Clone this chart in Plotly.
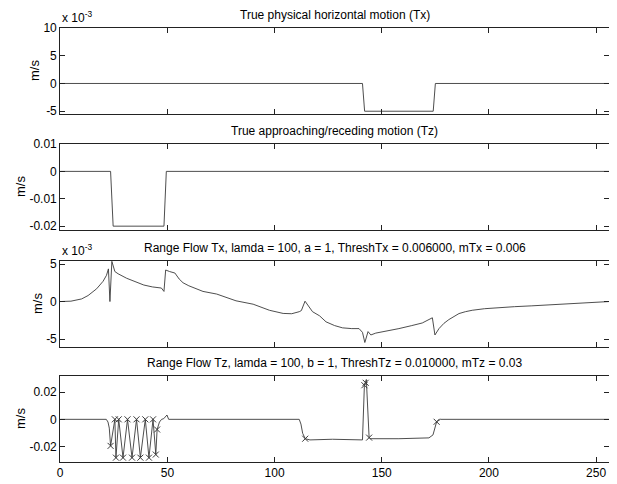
import plotly.graph_objects as go
from plotly.subplots import make_subplots

# ---------------- data ----------------
tx_true_x = [0, 141, 142, 174, 175, 256]
tx_true_y = [0, 0, -0.005, -0.005, 0, 0]

tz_true_x = [0, 23.5, 24.7, 48.4, 49.5, 256]
tz_true_y = [0, 0, -0.02, -0.02, 0, 0]

rf_tx_x = [0, 5, 10, 13, 17, 20, 21.6, 22.5, 23.2, 24.1, 25.5, 27, 31, 35, 39, 43, 47.2, 48.4, 49.2,
           51, 53.5, 55.5, 57.3, 60, 66.6, 73, 82, 90, 97.6, 104, 108, 111.5, 112.5, 114.2, 117.7,
           121, 124, 128, 131.7, 136, 139.4, 141, 142.1, 143.6, 144.9, 147.2, 152, 158, 164, 168.9,
           173.6, 174.8, 176.7, 179, 181.3, 184, 186, 189, 192.2, 198, 204.6, 212, 220, 228, 235.6,
           245, 255.3, 256]
rf_tx_y = [0, 0.05, 0.35, 0.8, 1.7, 2.7, 3.5, 4.35, 0.0, 5.35, 4.0, 3.7, 3.1, 2.6, 2.2, 1.95, 1.8, 1.35, 4.2,
           4.0, 3.8, 3.0, 2.5, 2.1, 1.35, 1.0, 0.1, -0.35, -1.16, -1.58, -1.62, -1.35, -1.2, 0.05, -1.35,
           -1.9, -2.7, -3.2, -3.5, -3.6, -3.6, -4.1, -5.45, -4.0, -4.45, -4.2, -3.95, -3.6, -3.2, -2.85,
           -2.16, -4.45, -3.6, -2.9, -2.4, -1.9, -1.6, -1.35, -1.16, -0.95, -0.8, -0.68, -0.57, -0.45, -0.34,
           -0.18, 0.0, 0.0]
rf_tx_y = [v * 1e-3 for v in rf_tx_y]

rf_tz_x = [0, 21.5, 22.3, 22.9, 23.5, 25.5, 26, 27.3, 29.3, 31.4, 33.5, 35.6, 37.4, 39.7, 41.4, 43.3, 44.6,
           45.2, 46.3, 47.3, 48.3, 49.8, 50.6, 52, 111.5, 112.3, 113.1, 114.3, 116.5, 127, 135, 141,
           141.9, 142.8, 144.1, 144.9, 158, 172, 173.9, 175.6, 177.4, 256]
rf_tz_y = [0, 0, -0.002, -0.0065, -0.0196, 0, -0.0283, 0, -0.0283, 0, -0.0283, 0, -0.0283, 0, -0.0283, 0, -0.026,
           -0.0075, -0.002, 0, 0.0005, 0.0032, 0, 0, 0, -0.0035, -0.0103, -0.0143, -0.0152, -0.0147, -0.015, -0.0152,
           0.0252, 0.0294, -0.0135, -0.0143, -0.0143, -0.0137, -0.0115, -0.0018, 0, 0]

mark_x = [23.5, 25.5, 26, 27.3, 29.3, 31.4, 33.5, 35.6, 37.4, 39.7, 41.4, 43.3, 44.6, 45.2,
          114.3, 141.9, 142.5, 144.1, 175.6]
mark_y = [-0.0196, 0, -0.0283, 0, -0.0283, 0, -0.0283, 0, -0.0283, 0, -0.0283, 0, -0.026, -0.0075,
          -0.0143, 0.0252, 0.027, -0.0135, -0.0018]

titles = ["True physical horizontal motion (Tx)",
          "True approaching/receding motion (Tz)",
          "Range Flow Tx, lamda = 100, a = 1, ThreshTx = 0.006000, mTx = 0.006",
          "Range Flow Tz, lamda = 100, b = 1, ThreshTz = 0.010000, mTz = 0.03"]

x_ticks = [0, 50, 100, 150, 200, 250]
y1_ticks = [-0.005, 0, 0.005, 0.01]
y1_text = ["-5", "0", "5", "10"]
y2_ticks = [-0.02, -0.01, 0, 0.01]
y2_text = ["-0.02", "-0.01", "0", "0.01"]
y3_ticks = [-0.005, 0, 0.005]
y3_text = ["-5", "0", "5"]
y4_ticks = [-0.02, 0, 0.02]
y4_text = ["-0.02", "0", "0.02"]

# ---------------- figure ----------------
OFF = 8  # page body margin
W, H = 617 - OFF, 484 - OFF
FONT = "Liberation Sans, Arial, sans-serif"
fig = make_subplots(rows=4, cols=1)

line = dict(color="#3a3a3a", width=0.9)
fig.add_trace(go.Scatter(x=tx_true_x, y=tx_true_y, mode="lines", line=line), row=1, col=1)
fig.add_trace(go.Scatter(x=tz_true_x, y=tz_true_y, mode="lines", line=line), row=2, col=1)
fig.add_trace(go.Scatter(x=rf_tx_x, y=rf_tx_y, mode="lines", line=line), row=3, col=1)
fig.add_trace(go.Scatter(x=rf_tz_x, y=rf_tz_y, mode="lines", line=line), row=4, col=1)
fig.add_trace(go.Scatter(x=mark_x, y=mark_y, mode="markers",
                         marker=dict(symbol="x-thin", size=6, line=dict(color="#3a3a3a", width=1))),
              row=4, col=1)

# pixel boxes in window coords (top, bottom)
boxes = [(28, 114), (144, 230), (261, 347), (376, 462)]
ylabel_x = [35, 20, 37, 20]
xl, xr = 60.2 - OFF, 609 - OFF
xdom = [xl / W, xr / W]
yranges = [[-0.0055, 0.01], [-0.0214, 0.01], [-0.00605, 0.0054], [-0.0315, 0.032]]
yticks = [(y1_ticks, y1_text), (y2_ticks, y2_text), (y3_ticks, y3_text), (y4_ticks, y4_text)]

axcommon = dict(showgrid=False, zeroline=False, showline=True, linecolor="#222222", linewidth=1,
                mirror="ticks", ticks="inside", ticklen=5, tickcolor="#222222",
                tickfont=dict(family=FONT, size=12, color="black"), automargin=False)

annotations = []
for i, (t, b) in enumerate(boxes):
    t -= OFF
    b -= OFF
    k = "" if i == 0 else str(i + 1)
    ydom = [1 - b / H, 1 - t / H]
    fig.layout["xaxis" + k].update(domain=xdom, range=[0, 256], tickvals=x_ticks,
                                   showticklabels=(i == 3), **axcommon)
    fig.layout["yaxis" + k].update(domain=ydom, range=yranges[i], tickvals=yticks[i][0],
                                   ticktext=yticks[i][1], **axcommon)
    annotations.append(dict(text=titles[i], x=(xl + xr) / 2 / W, y=1 - t / H, xref="paper", yref="paper",
                            xanchor="center", yanchor="middle", yshift=13, showarrow=False,
                            font=dict(family=FONT, size=12, color="black")))
    annotations.append(dict(text="m/s", x=(ylabel_x[i] - OFF) / W, y=1 - (t + b) / 2 / H,
                            xref="paper", yref="paper",
                            xanchor="center", yanchor="middle", textangle=-90, showarrow=False,
                            font=dict(family=FONT, size=13, color="black")))
for i in (0, 2):
    t = boxes[i][0] - OFF
    annotations.append(dict(text="x 10<sup>-3</sup>", x=xl / W, y=1 - t / H, xref="paper", yref="paper",
                            xanchor="left", yanchor="bottom", yshift=1, showarrow=False,
                            font=dict(family=FONT, size=12, color="black")))

fig.update_layout(width=W, height=H, margin=dict(l=0, r=0, t=0, b=0), showlegend=False,
                  plot_bgcolor="white", paper_bgcolor="white", annotations=annotations,
                  font=dict(family=FONT, size=12, color="black"))

fig.write_html("out.html")
